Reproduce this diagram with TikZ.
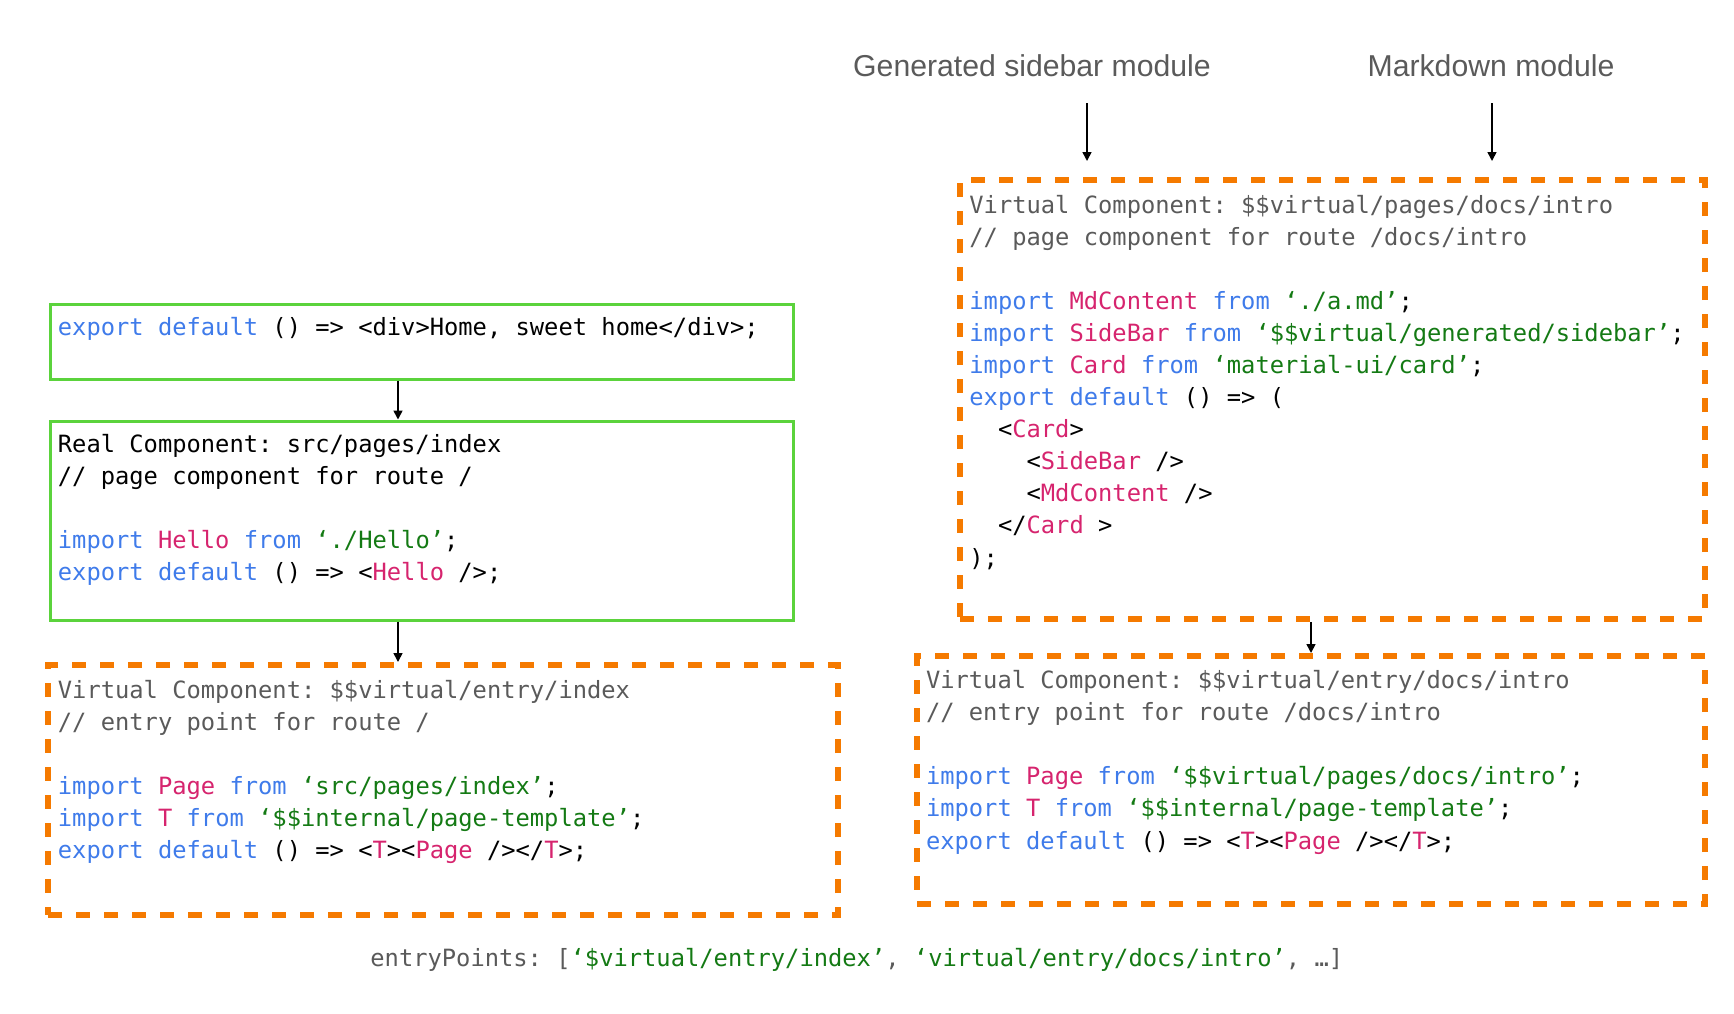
\documentclass[tikz,border=0pt]{standalone}
\usepackage{fontspec}
\setmainfont{Liberation Sans}
\newfontfamily\codefont{DejaVu Sans Mono}
\usetikzlibrary{arrows.meta}
\definecolor{kwc}{HTML}{3F7BEA}
\definecolor{cmc}{HTML}{D6246E}
\definecolor{stc}{HTML}{147A14}
\definecolor{grc}{HTML}{5A5A5A}
\definecolor{orc}{HTML}{F57A00}
\definecolor{gbc}{HTML}{5BD33C}
\newcommand\kwd[1]{\textcolor{kwc}{#1}}
\newcommand\cmp[1]{\textcolor{cmc}{#1}}
\newcommand\strg[1]{\textcolor{stc}{#1}}
\tikzset{
  gbox/.style={draw=gbc, line width=1.5pt, inner sep=0pt, minimum width=#1},
  obox/.style={draw=orc, line width=3pt, dash pattern=on 7pt off 7pt, inner sep=0pt},
  code/.style={anchor=base west, inner sep=0pt, align=left,
    font=\codefont\frenchspacing\fontsize{11.88}{16.035}\selectfont},
  lab/.style={anchor=base, inner sep=0pt, text=grc, font=\fontsize{15.1}{18}\selectfont},
  arr/.style={line width=0.8pt, -{Triangle[length=4.5pt,width=4.5pt]}}
}
\begin{document}
\begin{tikzpicture}[x=0.5pt,y=-0.5pt]
\useasboundingbox (0,0) rectangle (1734,1013);
% boxes
\node[gbox=371.5pt, minimum height=37.5pt] (box1) at (421.5,341.5) {};
\node[gbox=371.5pt, minimum height=99.5pt] (box2) at (421.5,520.5) {};
\node[obox, minimum width=395pt, minimum height=125pt] (lorange) at (443,790) {};
\node[obox, minimum width=372.5pt, minimum height=219.5pt] (rtop) at (1332.5,399.5) {};
\node[obox, minimum width=394pt, minimum height=124pt] (rbot) at (1311,780) {};
% labels
\node[lab] (lab1) at (1032,76) {Generated sidebar module};
\node[lab] (lab2) at (1491,76) {Markdown module};
\coordinate (s1) at (1087,103);
\coordinate (e1) at (1087,161);
\coordinate (s2) at (1492,103);
\coordinate (e2) at (1492,161);
\draw[arr] (s1) -- (e1);
\draw[arr] (s2) -- (e2);
% arrows between boxes
\draw[arr] ([xshift=-11.75pt]box1.south) -- ([xshift=-11.75pt]box2.north);
\draw[arr] ([xshift=-11.75pt]box2.south) coordinate (p2) -- (p2 |- lorange.north);
\draw[arr] (rbot.north |- rtop.south) -- (rbot.north);
% code texts (anchored at the baseline of their last line)
\node[code] (t1) at (57.5,335) {\kwd{export default} () => <div>Home, sweet home</div>;};
\node[code] (t2) at (57.5,580.3) {Real Component: src/pages/index\\
// page component for route /\\[16.035pt]
\kwd{import} \cmp{Hello} \kwd{from} \strg{‘./Hello’};\\
\kwd{export default} () => <\cmp{Hello} />;};
\node[code] (t3) at (57.5,858.8) {\textcolor{grc}{Virtual Component: \$\$virtual/entry/index}\\
\textcolor{grc}{// entry point for route /}\\[16.035pt]
\kwd{import} \cmp{Page} \kwd{from} \strg{‘src/pages/index’};\\
\kwd{import} \cmp{T} \kwd{from} \strg{‘\$\$internal/page-template’};\\
\kwd{export default} () => <\cmp{T}><\cmp{Page} /></\cmp{T}>;};
\node[code] (t4) at (969,566) {\textcolor{grc}{Virtual Component: \$\$virtual/pages/docs/intro}\\
\textcolor{grc}{// page component for route /docs/intro}\\[16.035pt]
\kwd{import} \cmp{MdContent} \kwd{from} \strg{‘./a.md’};\\
\kwd{import} \cmp{SideBar} \kwd{from} \strg{‘\$\$virtual/generated/sidebar’};\\
\kwd{import} \cmp{Card} \kwd{from} \strg{‘material-ui/card’};\\
\kwd{export default} () => (\\
\phantom{xx}<\cmp{Card}>\\
\phantom{xxxx}<\cmp{SideBar} />\\
\phantom{xxxx}<\cmp{MdContent} />\\
\phantom{xx}</\cmp{Card} >\\
);};
\node[code] (t5) at (925.6,849) {\textcolor{grc}{Virtual Component: \$\$virtual/entry/docs/intro}\\
\textcolor{grc}{// entry point for route /docs/intro}\\[16.035pt]
\kwd{import} \cmp{Page} \kwd{from} \strg{‘\$\$virtual/pages/docs/intro’};\\
\kwd{import} \cmp{T} \kwd{from} \strg{‘\$\$internal/page-template’};\\
\kwd{export default} () => <\cmp{T}><\cmp{Page} /></\cmp{T}>;};
\node[code, text=grc] (t6) at (370,966) {entryPoints: [\strg{‘\$virtual/entry/index’}, \strg{‘virtual/entry/docs/intro’}, …]};
\end{tikzpicture}
\end{document}
